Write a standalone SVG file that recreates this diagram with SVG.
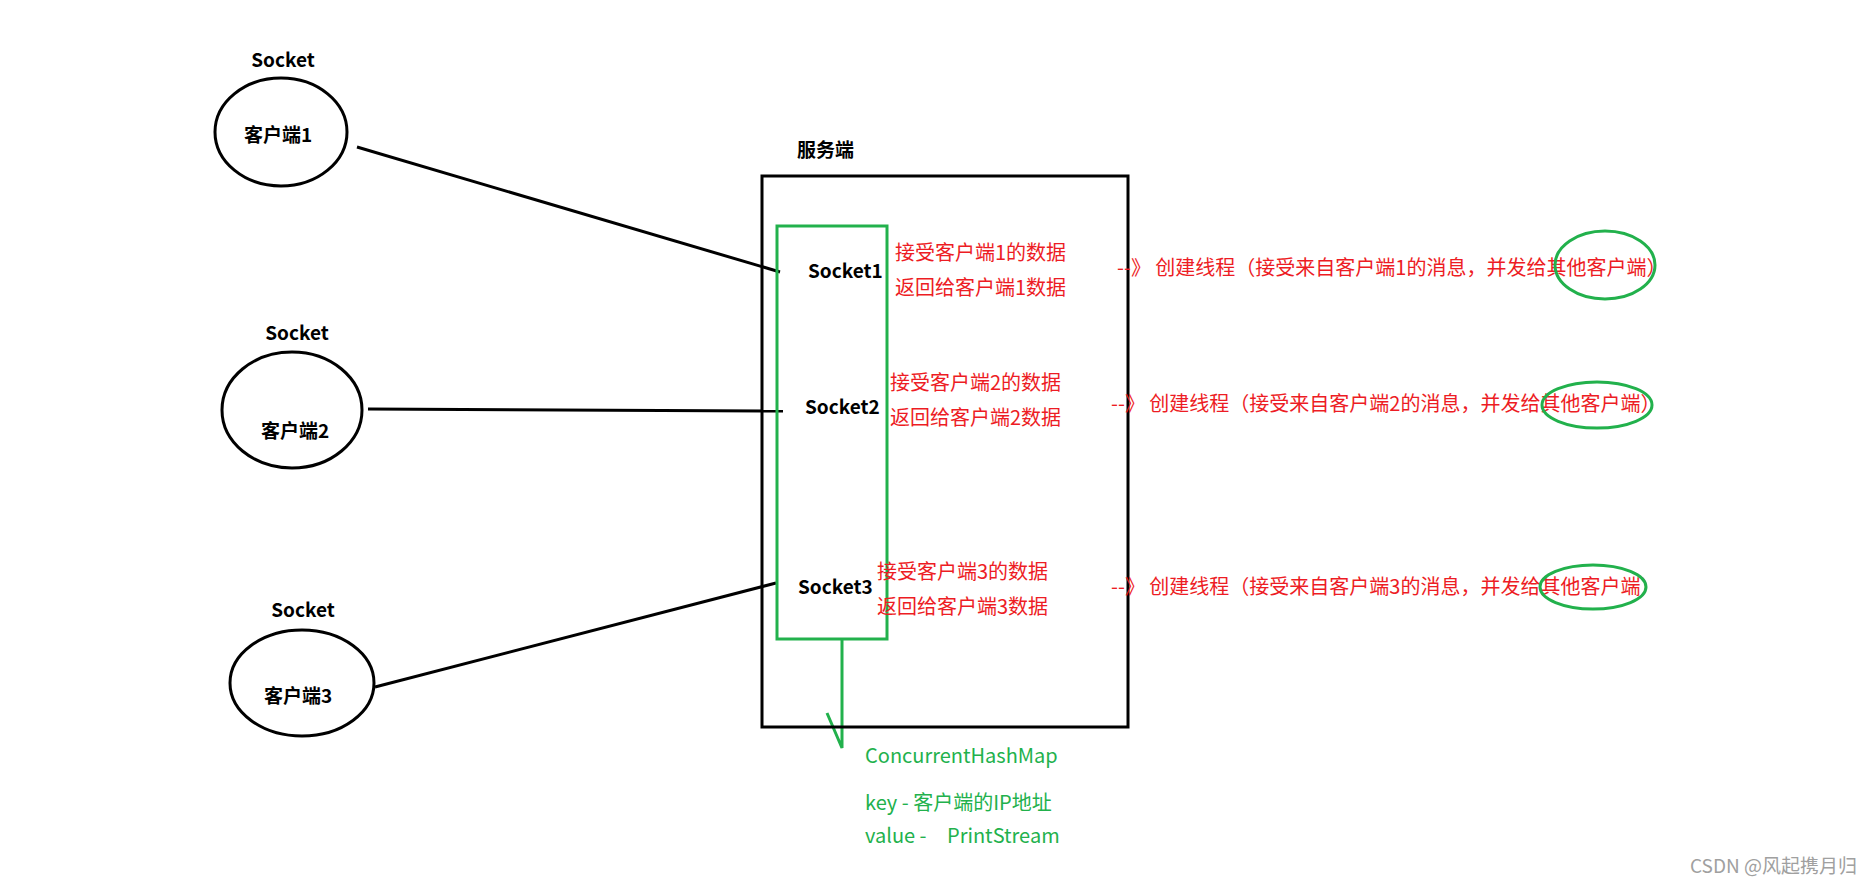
<svg xmlns="http://www.w3.org/2000/svg" width="1871" height="886" viewBox="0 0 1871 886">
<style>
.bk{fill:none;stroke:#000;stroke-width:3}
.gr{fill:none;stroke:#22b14c;stroke-width:3}
.lbl{font-family:"Noto Sans CJK SC","Noto Sans",sans-serif;font-weight:bold;fill:#000;font-size:19px}
.red{font-family:"Noto Sans CJK SC","Noto Sans",sans-serif;fill:#ed1c24;font-size:20px}
.grt{font-family:"Noto Sans CJK SC","Noto Sans",sans-serif;fill:#22b14c;font-size:20px}
.wm{font-family:"Noto Sans CJK SC","Noto Sans",sans-serif;fill:#a0a0a0;font-size:19px}
</style>
<rect width="1871" height="886" fill="#fff"/>
<g id="connectors">
<line class="bk" x1="357" y1="147" x2="780" y2="272"/>
<line class="bk" x1="368" y1="409" x2="783" y2="411"/>
<line class="bk" x1="375" y1="687" x2="776" y2="583"/>
<polyline class="gr" points="842,639 842,748 827,713"/>
</g>
<g id="client1">
<text class="lbl" x="283" y="67" text-anchor="middle">Socket</text>
<ellipse class="bk" cx="281" cy="132" rx="66" ry="54"/>
<text class="lbl" x="278" y="142" text-anchor="middle">客户端1</text>
</g>
<g id="client2">
<text class="lbl" x="297" y="340" text-anchor="middle">Socket</text>
<ellipse class="bk" cx="292" cy="410" rx="70" ry="58"/>
<text class="lbl" x="295" y="438" text-anchor="middle">客户端2</text>
</g>
<g id="client3">
<text class="lbl" x="303" y="617" text-anchor="middle">Socket</text>
<ellipse class="bk" cx="302" cy="683" rx="72" ry="53"/>
<text class="lbl" x="298" y="703" text-anchor="middle">客户端3</text>
</g>
<g id="server">
<text class="lbl" x="797" y="157">服务端</text>
<rect class="bk" x="762" y="176" width="366" height="551"/>
</g>
<g id="sockets">
<rect class="gr" x="777" y="226" width="110" height="413"/>
<text class="lbl" x="808" y="278">Socket1</text>
<text class="lbl" x="805" y="414">Socket2</text>
<text class="lbl" x="798" y="594">Socket3</text>
</g>
<g id="row1">
<text class="red" x="895" y="260">接受客户端1的数据</text>
<text class="red" x="895" y="295">返回给客户端1数据</text>
<text class="red" x="1117" y="275">--》 创建线程（接受来自客户端1的消息，并发给其他客户端）</text>
<ellipse class="gr" cx="1605" cy="265" rx="50" ry="34"/>
</g>
<g id="row2">
<text class="red" x="890" y="390">接受客户端2的数据</text>
<text class="red" x="890" y="425">返回给客户端2数据</text>
<text class="red" x="1111" y="411">--》 创建线程（接受来自客户端2的消息，并发给其他客户端）</text>
<ellipse class="gr" cx="1597" cy="405" rx="55" ry="23"/>
</g>
<g id="row3">
<text class="red" x="877" y="579">接受客户端3的数据</text>
<text class="red" x="877" y="614">返回给客户端3数据</text>
<text class="red" x="1111" y="594">--》 创建线程（接受来自客户端3的消息，并发给其他客户端）</text>
<ellipse class="gr" cx="1593" cy="587" rx="53" ry="22"/>
</g>
<g id="map">
<text class="grt" x="865" y="763">ConcurrentHashMap</text>
<text class="grt" x="865" y="810">key - 客户端的IP地址</text>
<text class="grt" x="865" y="843">value -</text>
<text class="grt" x="947" y="843">PrintStream</text>
</g>
<text class="wm" x="1857" y="873" text-anchor="end">CSDN @风起携月归</text>
</svg>
